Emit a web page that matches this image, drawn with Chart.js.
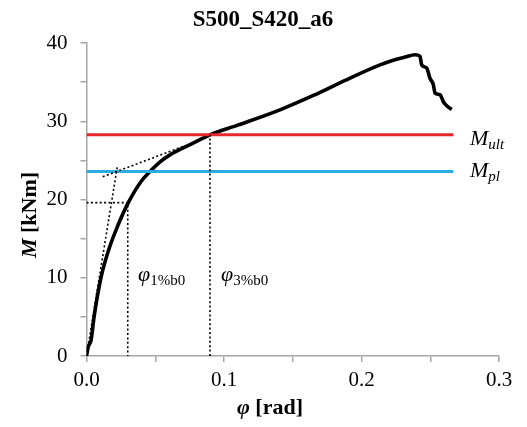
<!DOCTYPE html>
<html>
<head>
<meta charset="utf-8">
<title>S500_S420_a6</title>
<script src="https://cdn.jsdelivr.net/npm/chart.js@4.4.0/dist/chart.umd.min.js"></script>
<style>
  body { margin: 0; background: #fff; }
  #wrap { width: 527px; height: 427px; }
</style>
</head>
<body>
<div id="wrap"><canvas id="chart" width="527" height="427"></canvas></div>
<script>
// measured moment-rotation curve
const phi = [0, 0.0013, 0.0033, 0.0055, 0.0105, 0.016, 0.0231, 0.0304, 0.0401, 0.0462, 0.0535, 0.0607, 0.0753, 0.0898,
  0.11, 0.1407, 0.165, 0.189, 0.2135, 0.2231, 0.2316, 0.2389, 0.2425, 0.2438, 0.2474, 0.2498, 0.2522, 0.2535, 0.2571, 0.2595, 0.2625, 0.2656];
const moment = [0, 1.2, 2.0, 5.0, 10.0, 13.5, 16.8, 19.6, 22.4, 23.57, 24.8, 25.7, 27.0, 28.26,
  29.5, 31.46, 33.3, 35.3, 37.2, 37.8, 38.2, 38.5, 38.3, 37.2, 36.8, 35.5, 34.7, 33.6, 33.4, 32.5, 31.9, 31.5];

// reference levels
const Mult = 28.26;
const Mpl = 23.57;
const levelPhi = [0, 0.2668];

// characteristic rotations
const phi1 = 0.030, M1 = 19.6;
const phi3 = 0.0898, M3 = 28.26;

// initial stiffness and post-yield tangent (dotted)
const stiffPhi = [0, 0.0226];
const stiffM = [0, 24.4];
const tangPhi = [0.0118, 0.072];
const tangM = [22.9, 26.9];

const xTicks = [0, 0.1, 0.2, 0.3];
const yTicks = [0, 10, 20, 30, 40];

const serif = "'Liberation Serif', 'Times New Roman', serif";
const grey = "#a6a6a6";

function pts(xs, ys) { return xs.map((x, i) => ({ x: x, y: ys[i] })); }

const dotted = { borderColor: "#000", borderWidth: 1.6, borderDash: [2, 2.4], pointRadius: 0, showLine: true, fill: false };

const labels = {
  id: "labels",
  afterDraw(chart) {
    const ctx = chart.ctx;
    const ys = chart.scales.y;
    ctx.save();
    ctx.fillStyle = "#000";
    ctx.textBaseline = "alphabetic";

    // title
    ctx.font = "bold 23px " + serif;
    ctx.textAlign = "center";
    ctx.fillText("S500_S420_a6", 263, 26);

    ctx.textAlign = "left";
    function sub(x, y, main, subText, mainFont, subFont, dy) {
      ctx.font = mainFont;
      ctx.fillText(main, x, y);
      const w = ctx.measureText(main).width;
      ctx.font = subFont;
      ctx.fillText(subText, x + w, y + dy);
    }
    // level labels
    sub(470, ys.getPixelForValue(Mult) + 10, "M", "ult", "italic 22px " + serif, "italic 15px " + serif, 4);
    sub(470, ys.getPixelForValue(Mpl) + 5, "M", "pl", "italic 22px " + serif, "italic 15px " + serif, 4);

    // rotation labels
    sub(138, 281, "\u03c6", "1%b0", "italic 22px " + serif, "15px " + serif, 4);
    sub(221, 281, "\u03c6", "3%b0", "italic 22px " + serif, "15px " + serif, 4);

    // x axis title
    ctx.font = "bold italic 22px " + serif;
    const a = "\u03c6", b = " [rad]";
    const wa = ctx.measureText(a).width;
    ctx.font = "bold 22px " + serif;
    const wb = ctx.measureText(b).width;
    let x0 = 270 - (wa + wb) / 2;
    ctx.font = "bold italic 22px " + serif;
    ctx.fillText(a, x0, 414);
    ctx.font = "bold 22px " + serif;
    ctx.fillText(b, x0 + wa, 414);

    // y axis title
    ctx.translate(36, 215);
    ctx.rotate(-Math.PI / 2);
    ctx.font = "bold italic 22px " + serif;
    const c = "M", d = " [kNm]";
    const wc = ctx.measureText(c).width;
    ctx.font = "bold 22px " + serif;
    const wd = ctx.measureText(d).width;
    x0 = -(wc + wd) / 2;
    ctx.font = "bold italic 22px " + serif;
    ctx.fillText(c, x0, 0);
    ctx.font = "bold 22px " + serif;
    ctx.fillText(d, x0 + wc, 0);
    ctx.restore();
  }
};

new Chart(document.getElementById("chart"), {
  type: "scatter",
  data: {
    datasets: [
      { ...dotted, data: pts([0, phi1, phi1], [M1, M1, 0]) },
      { ...dotted, data: pts([phi3, phi3], [0, M3]) },
      { ...dotted, data: pts(stiffPhi, stiffM) },
      { ...dotted, data: pts(tangPhi, tangM) },
      { data: pts(levelPhi, [Mult, Mult]), borderColor: "#e8272b", borderWidth: 3, pointRadius: 0, showLine: true },
      { data: pts(levelPhi, [Mpl, Mpl]), borderColor: "#2aace2", borderWidth: 3, pointRadius: 0, showLine: true },
      { data: pts(phi, moment), borderColor: "#000", borderWidth: 3.6, pointRadius: 0, showLine: true,
        cubicInterpolationMode: "monotone", borderJoinStyle: "round" }
    ]
  },
  options: {
    responsive: false,
    devicePixelRatio: 1,
    animation: false,
    layout: { padding: { top: 43, right: 28, left: 0, bottom: 0 } },
    plugins: { legend: { display: false }, tooltip: { enabled: false } },
    scales: {
      x: {
        type: "linear", min: 0, max: 0.3,
        afterFit: s => { s.height = 71; },
        afterBuildTicks: s => { s.ticks = [0, 0.05, 0.1, 0.15, 0.2, 0.25, 0.3].map(v => ({ value: v })); },
        ticks: {
          callback: v => xTicks.some(t => Math.abs(t - v) < 1e-6) ? v.toFixed(1) : "",
          font: { family: serif, size: 21 }, color: "#000", padding: 6, maxRotation: 0, autoSkip: false
        },
        grid: { drawOnChartArea: false, drawTicks: true, tickLength: 6, color: grey, lineWidth: 1.5 },
        border: { color: grey, width: 1.5 }
      },
      y: {
        type: "linear", min: 0, max: 40,
        afterFit: s => { s.width = 86.5; },
        afterBuildTicks: s => { s.ticks = [0, 5, 10, 15, 20, 25, 30, 35, 40].map(v => ({ value: v })); },
        ticks: {
          callback: v => yTicks.includes(v) ? String(v) : "",
          font: { family: serif, size: 21 }, color: "#000", padding: 13, autoSkip: false
        },
        grid: { drawOnChartArea: false, drawTicks: true, tickLength: 6, color: grey, lineWidth: 1.5 },
        border: { color: grey, width: 1.5 }
      }
    }
  },
  plugins: [labels]
});
</script>
</body>
</html>
